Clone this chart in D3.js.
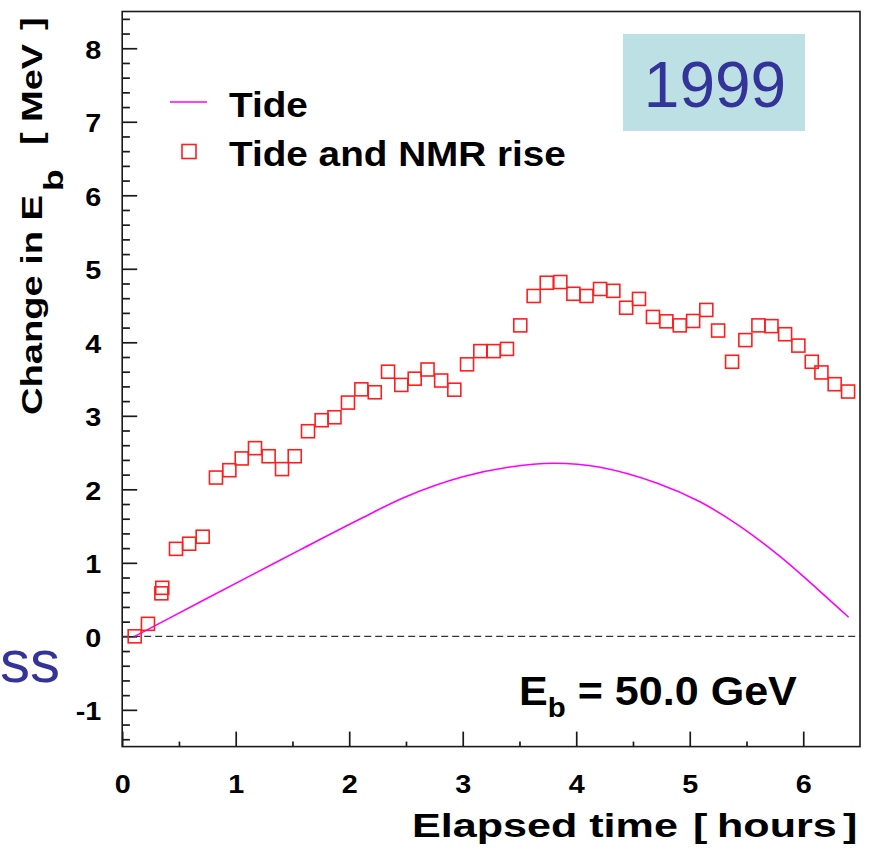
<!DOCTYPE html>
<html>
<head>
<meta charset="utf-8">
<script src="https://cdn.jsdelivr.net/npm/d3@7"></script>
<style>
  html, body { margin: 0; padding: 0; background: #fff; }
  svg { display: block; }
  text { font-family: "Liberation Sans", Arial, Helvetica, sans-serif; }
</style>
</head>
<body>
<div id="chart"></div>
<script>
// Tick labels
var xTicks = [0, 1, 2, 3, 4, 5, 6]
var yTicks = [-1, 0, 1, 2, 3, 4, 5, 6, 7, 8]

// "Tide and NMR rise" points (hours, MeV)
var nmrHours = [0.11, 0.227, 0.345, 0.353, 0.474, 0.59, 0.709, 0.826, 0.944, 1.053,
                1.17, 1.29, 1.408, 1.52, 1.637, 1.757, 1.87, 1.989, 2.107, 2.225,
                2.342, 2.459, 2.577, 2.69, 2.81, 2.926, 3.038, 3.155, 3.273, 3.39,
                3.507, 3.625, 3.74, 3.86, 3.975, 4.09, 4.21, 4.327, 4.44, 4.553,
                4.676, 4.794, 4.912, 5.03, 5.146, 5.25, 5.373, 5.49, 5.605, 5.72,
                5.84, 5.957, 6.075, 6.16, 6.277, 6.395]
var nmrMeV = [0, 0.17, 0.585, 0.66, 1.19, 1.26, 1.355, 2.16, 2.26, 2.42,
              2.56, 2.45, 2.275, 2.45, 2.79, 2.94, 2.98, 3.18, 3.36, 3.32,
              3.60, 3.42, 3.505, 3.63, 3.48, 3.355, 3.70, 3.88, 3.88, 3.91,
              4.23, 4.63, 4.81, 4.82, 4.66, 4.63, 4.725, 4.70, 4.47, 4.59,
              4.345, 4.285, 4.23, 4.29, 4.44, 4.16, 3.735, 4.03, 4.23, 4.22,
              4.11, 3.955, 3.735, 3.59, 3.43, 3.33]

// "Tide" curve, sampled along the drawn line
var tideHours = [0.11, 0.69, 1.16, 1.57, 2.10, 2.50, 3.00, 3.40, 3.80, 4.21, 4.72, 5.09, 5.44, 5.80, 6.12, 6.40]
var tideMeV = [0.00, 0.47, 0.85, 1.18, 1.60, 1.90, 2.17, 2.30, 2.355, 2.30, 2.08, 1.83, 1.50, 1.08, 0.65, 0.26]

var width = 869
var height = 850
var frameLeft = 122.2, frameRight = 860, frameTop = 11.5, frameBottom = 746.6
var axisColor = "#1a1a1a"
var bold = "bold"

var svg = d3.select('#chart').append('svg')
            .attr('width', width)
            .attr('height', height)

// scales
var x = d3.scaleLinear().domain([0, 6.5]).range([frameLeft, frameRight])
var y = d3.scaleLinear().domain([-1.5, 8.5]).range([frameBottom, frameTop])

// minor ticks
var yMinor = d3.range(-7, 43).map(i => +(i * 0.2).toFixed(1)).filter(v => Math.abs(v - Math.round(v)) > 0.01)
var xMinor = d3.range(0, 13).map(i => i * 0.5).filter(v => v % 1 !== 0)

svg.append('g')
    .attr('transform', 'translate(' + frameLeft + ',0)')
    .call(d3.axisLeft(y).tickValues(yMinor).tickSize(-7.7).tickFormat(''))
svg.append('g')
    .attr('transform', 'translate(0,' + frameBottom + ')')
    .call(d3.axisBottom(x).tickValues(xMinor).tickSize(-5).tickFormat(''))

var yAxis = svg.append('g')
    .attr('transform', 'translate(' + frameLeft + ',0)')
    .call(d3.axisLeft(y).tickValues(yTicks).tickSize(-15).tickFormat(d => String(d)))
var xAxis = svg.append('g')
    .attr('transform', 'translate(0,' + frameBottom + ')')
    .call(d3.axisBottom(x).tickValues(xTicks).tickSize(-15).tickFormat(d => String(d)))

svg.selectAll('.domain').remove()
svg.selectAll('.tick line').attr('stroke', axisColor).attr('stroke-width', 1.7)

yAxis.selectAll('.tick text')
    .attr('x', null).attr('dy', null)
    .attr('transform', 'translate(-21,10) scale(1.15,1)')
    .attr('font-size', 25).attr('font-weight', bold).attr('fill', '#000')
    .style('font-family', '"Liberation Sans", Arial, sans-serif')
xAxis.selectAll('.tick text')
    .attr('y', null).attr('dy', null)
    .attr('transform', 'translate(0,46.5) scale(1.15,1)')
    .attr('font-size', 25).attr('font-weight', bold).attr('fill', '#000')
    .style('font-family', '"Liberation Sans", Arial, sans-serif')

// frame
svg.append('rect')
    .attr('x', frameLeft).attr('y', frameTop)
    .attr('width', frameRight - frameLeft).attr('height', frameBottom - frameTop)
    .attr('fill', 'none').attr('stroke', axisColor).attr('stroke-width', 1.6)

// zero line
svg.append('line')
    .attr('x1', x(0)).attr('x2', x(6.5))
    .attr('y1', y(0)).attr('y2', y(0))
    .attr('stroke', '#333').attr('stroke-width', 1.4)
    .attr('stroke-dasharray', '7,4')

// tide curve
var tideData = tideHours.map((h, i) => [h, tideMeV[i]])
svg.append('path')
    .datum(tideData)
    .attr('d', d3.line().x(d => x(d[0])).y(d => y(d[1])).curve(d3.curveCatmullRom.alpha(0.5)))
    .attr('fill', 'none').attr('stroke', '#ff00ff').attr('stroke-width', 1.6)

// NMR squares
var sq = 13
svg.append('g').selectAll('rect')
    .data(nmrHours.map((h, i) => [h, nmrMeV[i]]))
    .enter()
    .append('rect')
    .attr('x', d => x(d[0]) - sq / 2)
    .attr('y', d => y(d[1]) - sq / 2)
    .attr('width', sq).attr('height', sq)
    .attr('fill', 'none').attr('stroke', '#ff1e1e').attr('stroke-width', 1.6)

// legend
var legend = svg.append('g')
legend.append('line')
    .attr('x1', 170).attr('x2', 207).attr('y1', 102).attr('y2', 102)
    .attr('stroke', '#ff00ff').attr('stroke-width', 1.6)
legend.append('rect')
    .attr('x', 182).attr('y', 144.5).attr('width', 14).attr('height', 14)
    .attr('fill', 'none').attr('stroke', '#ff1e1e').attr('stroke-width', 1.6)
var leg1 = legend.append('text')
    .attr('font-size', 35).attr('font-weight', bold).text('Tide')
var leg2 = legend.append('text')
    .attr('font-size', 35).attr('font-weight', bold).text('Tide and NMR rise')
var legScale = 337 / leg2.node().getComputedTextLength()
leg1.attr('transform', 'translate(229,116.7) scale(' + legScale + ',1)')
leg2.attr('transform', 'translate(229,166) scale(' + legScale + ',1)')

// year box
svg.append('rect')
    .attr('x', 623).attr('y', 34).attr('width', 182).attr('height', 97)
    .attr('fill', '#bce0e3')
svg.append('text')
    .attr('x', 715).attr('y', 107)
    .attr('text-anchor', 'middle')
    .attr('font-size', 64).attr('fill', '#333399')
    .text('1999')

// beam energy note
var eb = svg.append('text').attr('font-size', 41).attr('font-weight', bold)
eb.append('tspan').text('E')
eb.append('tspan').attr('font-size', 28).attr('dy', 12).text('b')
eb.append('tspan').attr('dy', -12).text(' = 50.0 GeV')
var ebScale = 278 / eb.node().getComputedTextLength()
eb.attr('transform', 'translate(519,705) scale(' + ebScale + ',1)')

// axis titles are set piece by piece, with one horizontal stretch each
function titlePieces (g, pieces, size, stretch) {
    pieces.forEach(p => {
        g.append('text')
            .attr('font-size', p.size || size).attr('font-weight', bold)
            .attr('transform', 'translate(' + p.at + ',' + (p.dy || 0) + ') scale(' + stretch + ',1)')
            .text(p.text)
    })
}

// x axis title
var xTitle = svg.append('g').attr('transform', 'translate(0,837)')
var probe = xTitle.append('text').attr('font-size', 33).attr('font-weight', bold).text('Elapsed time')
var xStretch = 266 / probe.node().getComputedTextLength()
probe.remove()
titlePieces(xTitle, [
    {text: 'Elapsed time', at: 412},
    {text: '[', at: 693},
    {text: 'hours', at: 717},
    {text: ']', at: 843}
], 33, xStretch)

// y axis title (rotated, reads upward from y = 415)
var yTitle = svg.append('g').attr('transform', 'translate(42,415) rotate(-90)')
probe = yTitle.append('text').attr('font-size', 29).attr('font-weight', bold).text('Change in E')
var yStretch = 220 / probe.node().getComputedTextLength()
probe.remove()
titlePieces(yTitle, [
    {text: 'Change in E', at: 0},
    {text: 'b', at: 224, dy: 21, size: 27},
    {text: '[', at: 270},
    {text: 'MeV', at: 293},
    {text: ']', at: 385}
], 29, yStretch)

// slide text peeking out on the left
svg.append('text')
    .attr('x', 0).attr('y', 682)
    .attr('font-size', 60).attr('fill', '#333399')
    .text('ss')
</script>
</body>
</html>
